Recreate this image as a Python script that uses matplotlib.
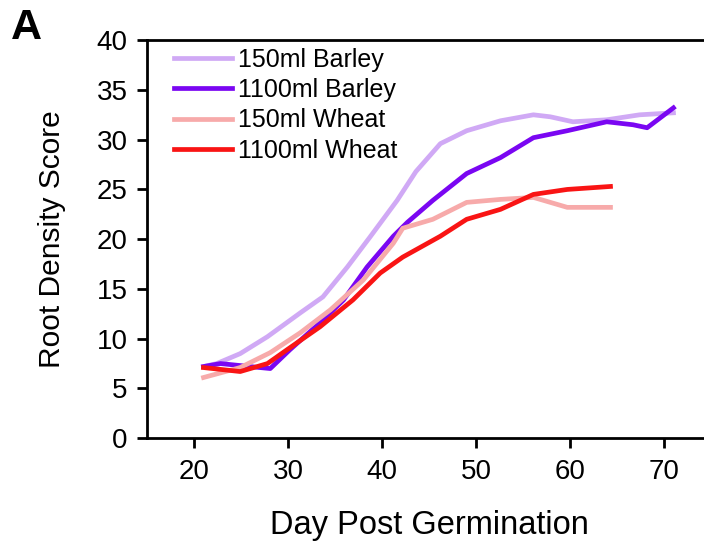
import matplotlib
matplotlib.use("Agg")
import matplotlib.pyplot as plt

plt.rcParams["font.family"] = ["Liberation Sans", "DejaVu Sans"]

# 150ml Barley
barley150_day = [21, 22.4, 24.9, 27.8, 31.3, 33.7, 36.3, 38.7, 41.6, 43.6, 46.2,
                 49.0, 52.6, 56.1, 57.9, 60.3, 63.9, 67.4, 71.0]
barley150_val = [7.2, 7.5, 8.5, 10.2, 12.6, 14.2, 17.2, 20.2, 23.9, 26.8, 29.6,
                 30.9, 31.9, 32.5, 32.3, 31.8, 32.0, 32.5, 32.7]

# 1100ml Barley
barley1100_day = [21, 22.8, 27.0, 28.1, 30.2, 33.4, 35.9, 38.4, 41.2, 42.7, 45.4,
                  49.0, 52.6, 56.1, 59.7, 63.9, 66.7, 68.2, 69.6, 71.0]
barley1100_val = [7.2, 7.5, 7.1, 7.0, 8.9, 11.6, 13.9, 17.2, 20.3, 21.7, 23.9,
                  26.6, 28.2, 30.2, 30.9, 31.8, 31.5, 31.2, 32.2, 33.2]

# 150ml Wheat
wheat150_day = [21, 24.9, 28.1, 31.3, 34.5, 38.0, 41.2, 42.2, 45.4, 49.0, 52.6,
                56.1, 57.9, 59.7, 64.3]
wheat150_val = [6.1, 7.1, 8.6, 10.6, 12.9, 15.9, 19.6, 21.1, 22.0, 23.7, 24.0,
                24.2, 23.7, 23.2, 23.2]

# 1100ml Wheat
wheat1100_day = [21, 24.9, 27.8, 29.9, 33.4, 36.9, 39.8, 42.2, 46.2, 49.0, 52.6,
                 56.1, 59.7, 64.3]
wheat1100_val = [7.1, 6.7, 7.5, 8.9, 11.2, 13.9, 16.6, 18.2, 20.3, 22.0, 23.0,
                 24.5, 25.0, 25.3]

fig = plt.figure(figsize=(7.04, 5.43), dpi=100)
ax = fig.add_axes([0.209, 0.193, 0.801, 0.733])

ax.plot(barley150_day, barley150_val, c="#D0A9F5", lw=3.4, label="150ml Barley")
ax.plot(barley1100_day, barley1100_val, c="#7A06F2", lw=3.4, label="1100ml Barley")
ax.plot(wheat150_day, wheat150_val, c="#F7AAAA", lw=3.4, label="150ml Wheat")
ax.plot(wheat1100_day, wheat1100_val, c="#F91414", lw=3.4, label="1100ml Wheat")

ax.set_xlim(15, 75)
ax.set_ylim(0, 40)
ax.set_xticks(range(20, 71, 10))
ax.set_yticks(range(0, 41, 5))

for s in ax.spines.values():
    s.set_linewidth(2)
ax.tick_params(direction="out", length=7, width=2, labelsize=20)
ax.tick_params(axis="x", pad=8)
ax.tick_params(axis="y", pad=7)

ax.set_xlabel("Day Post Germination", fontsize=23.5, labelpad=18)
ax.set_ylabel("Root Density Score", fontsize=21.5, labelpad=22)

ax.legend(loc="upper left", bbox_to_anchor=(0.026, 1.012), frameon=False,
          fontsize=18, handlelength=2.3, handletextpad=0.25, labelspacing=0.25,
          borderaxespad=0.1)

fig.text(0.015, 0.985, "A", fontsize=31, fontweight="bold", va="top")

fig.savefig("out.png", dpi=100)
